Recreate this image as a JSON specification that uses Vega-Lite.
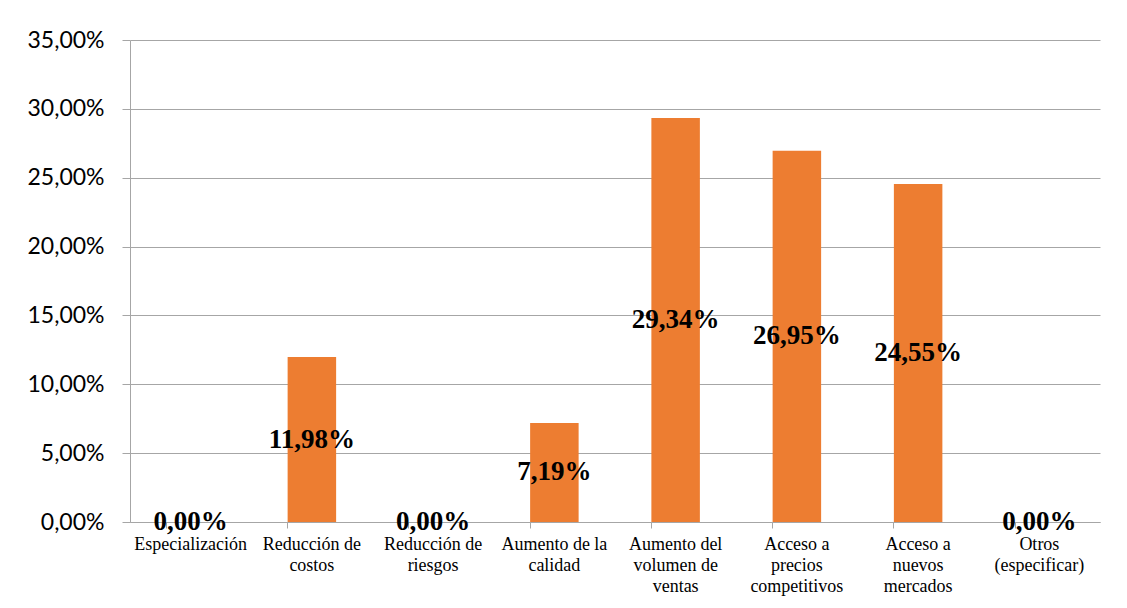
{
  "$schema": "https://vega.github.io/schema/vega-lite/v6.json",
  "width": 970,
  "height": 482,
  "autosize": {"type": "none"},
  "padding": {"left": 130, "top": 40, "right": 27, "bottom": 86},
  "background": "white",
  "config": {
    "view": {"stroke": null},
    "locale": {"number": {"decimal": ",", "thousands": ".", "grouping": [3], "currency": ["", "€"]}}
  },
  "data": {
    "values": [
      {"categoria": "Especialización", "valor": 0.0},
      {"categoria": "Reducción de costos", "valor": 0.1198},
      {"categoria": "Reducción de riesgos", "valor": 0.0},
      {"categoria": "Aumento de la calidad", "valor": 0.0719},
      {"categoria": "Aumento del volumen de ventas", "valor": 0.2934},
      {"categoria": "Acceso a precios competitivos", "valor": 0.2695},
      {"categoria": "Acceso a nuevos mercados", "valor": 0.2455},
      {"categoria": "Otros (especificar)", "valor": 0.0}
    ]
  },
  "encoding": {
    "x": {
      "field": "categoria",
      "type": "nominal",
      "sort": null,
      "scale": {"paddingInner": 0.6, "paddingOuter": 0.3},
      "axis": {
        "title": null,
        "labelAngle": 0,
        "labelFont": "Liberation Serif",
        "labelFontSize": 18,
        "labelColor": "#000000",
        "labelLineHeight": 21,
        "labelPadding": 7,
        "labelBaseline": "top",
        "labelExpr": "({'Especialización':['Especialización'],'Reducción de costos':['Reducción de','costos'],'Reducción de riesgos':['Reducción de','riesgos'],'Aumento de la calidad':['Aumento de la','calidad'],'Aumento del volumen de ventas':['Aumento del','volumen de','ventas'],'Acceso a precios competitivos':['Acceso a','precios','competitivos'],'Acceso a nuevos mercados':['Acceso a','nuevos','mercados'],'Otros (especificar)':['Otros','(especificar)']})[datum.value]",
        "bandPosition": 0,
        "tickSize": 6,
        "tickColor": "#a6a6a6",
        "domainColor": "#a6a6a6",
        "labelOverlap": false,
        "labelLimit": 0
      }
    }
  },
  "layer": [
    {
      "mark": {"type": "bar", "color": "#ED7D31"},
      "encoding": {
        "y": {
          "field": "valor",
          "type": "quantitative",
          "scale": {"domain": [0, 0.35], "nice": false},
          "axis": {
            "title": null,
            "format": ".2%",
            "values": [0, 0.05, 0.1, 0.15, 0.2, 0.25, 0.3, 0.35],
            "labelFont": "Lato",
            "labelFontSize": 23,
            "labelColor": "#000000",
            "labelPadding": 18,
            "tickSize": 8,
            "tickColor": "#a6a6a6",
            "domainColor": "#a6a6a6",
            "gridColor": "#a6a6a6",
            "grid": true
          }
        }
      }
    },
    {
      "mark": {"type": "text", "font": "Liberation Serif", "fontWeight": "bold", "fontSize": 27, "baseline": "middle", "align": "center", "color": "#000000"},
      "encoding": {
        "y": {
          "field": "valor",
          "type": "quantitative",
          "scale": {"domain": [0, 0.7], "nice": false},
          "axis": null
        },
        "text": {"field": "valor", "type": "quantitative", "format": ".2%"}
      }
    }
  ],
  "resolve": {"scale": {"y": "independent"}}
}
